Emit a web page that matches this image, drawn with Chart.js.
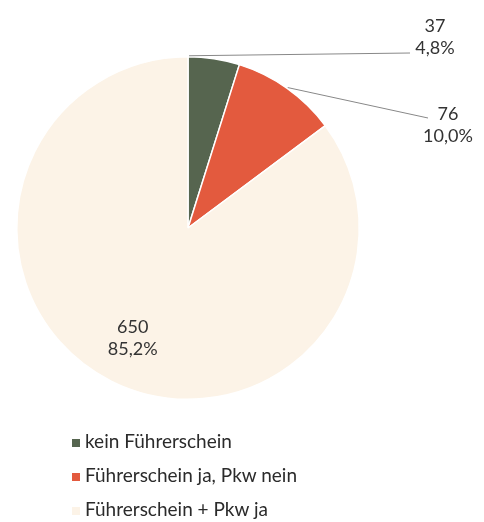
<!DOCTYPE html>
<html lang="de">
<head>
  <meta charset="UTF-8">
  <title>Führerschein und Pkw</title>
  <script src="https://cdn.jsdelivr.net/npm/chart.js"></script>
  <style>
    body { margin: 0; padding: 0; background: #fff; font-family: Lato, "Noto Sans", sans-serif; }
    .wrap { position: relative; width: 484px; height: 522px; }
    #legend { position: absolute; left: 72px; top: 424px; margin: 0; padding: 0; list-style: none; }
    #legend li { height: 34px; line-height: 34px; font-size: 19px; color: #2b2b2b; white-space: nowrap; }
    #legend span.box { display: inline-block; width: 8px; height: 8px; margin-right: 5px; vertical-align: 1px; }
  </style>
</head>
<body>
  <div class="wrap">
    <canvas id="pie" width="484" height="522"></canvas>
    <ul id="legend"></ul>
  </div>
  <script>
    const categories = ['kein Führerschein', 'Führerschein ja, Pkw nein', 'Führerschein + Pkw ja'];
    const counts = [37, 76, 650];
    const colors = ['#56654f', '#e35a3e', '#fcf3e7'];

    const total = counts.reduce((a, b) => a + b, 0);
    const pctText = v => (v / total * 100).toFixed(1).replace('.', ',') + '%';

    // where the labels sit, relative to pie centre (outside ones with a leader line)
    const labelSpots = [
      { text: [247, -191], lineFrom: 0.02, lineTo: [222, -175] },
      { text: [260, -103], lineFrom: 0.5, lineTo: [240, -110] },
      { inside: 0.72 }
    ];

    const labelPlugin = {
      id: 'sliceLabels',
      afterDatasetsDraw(chart) {
        const ctx = chart.ctx;
        const arcs = chart.getDatasetMeta(0).data;
        ctx.save();
        ctx.font = '18px Lato, "Noto Sans", sans-serif';
        ctx.fillStyle = '#333';
        ctx.textAlign = 'center';
        ctx.textBaseline = 'middle';
        arcs.forEach((arc, i) => {
          const spot = labelSpots[i];
          const { x, y, startAngle, endAngle, outerRadius } = arc.getProps(['x', 'y', 'startAngle', 'endAngle', 'outerRadius'], true);
          let tx, ty;
          if (spot.inside) {
            const mid = (startAngle + endAngle) / 2;
            tx = x + Math.cos(mid) * outerRadius * spot.inside;
            ty = y + Math.sin(mid) * outerRadius * spot.inside;
          } else {
            const a = startAngle + (endAngle - startAngle) * spot.lineFrom;
            ctx.beginPath();
            ctx.strokeStyle = '#888';
            ctx.lineWidth = 1;
            ctx.moveTo(x + Math.cos(a) * (outerRadius + 1), y + Math.sin(a) * (outerRadius + 1));
            ctx.lineTo(x + spot.lineTo[0], y + spot.lineTo[1]);
            ctx.stroke();
            tx = x + spot.text[0];
            ty = y + spot.text[1];
          }
          ctx.fillText(String(counts[i]), tx, ty - 11);
          ctx.fillText(pctText(counts[i]), tx, ty + 11);
        });
        ctx.restore();
      }
    };

    new Chart(document.getElementById('pie'), {
      type: 'pie',
      data: {
        labels: categories,
        datasets: [{
          data: counts,
          backgroundColor: colors,
          borderColor: '#ffffff',
          borderWidth: 1.5
        }]
      },
      options: {
        responsive: false,
        animation: false,
        layout: { padding: { left: 16, top: 56, right: 124, bottom: 122 } },
        plugins: {
          legend: { display: false },
          tooltip: { enabled: false }
        }
      },
      plugins: [labelPlugin]
    });

    const legend = document.getElementById('legend');
    categories.forEach((name, i) => {
      const li = document.createElement('li');
      li.innerHTML = '<span class="box" style="background:' + colors[i] + '"></span>' + name;
      legend.appendChild(li);
    });
  </script>
</body>
</html>
